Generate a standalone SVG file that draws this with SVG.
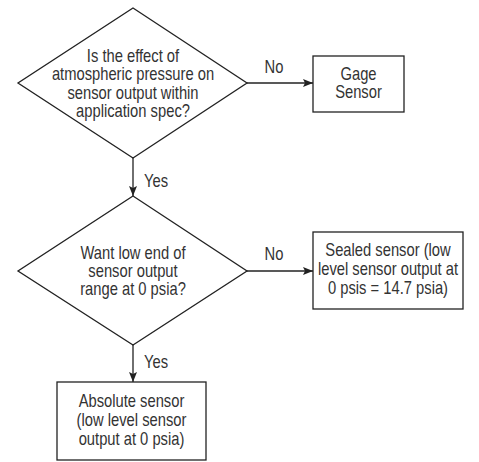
<svg xmlns="http://www.w3.org/2000/svg" width="479" height="462" viewBox="0 0 479 462">
<style>
.s{fill:#fff;stroke:#222;stroke-width:1.3}
.c{fill:none;stroke:#222;stroke-width:1.3}
text{font-family:"Liberation Sans",Arial,sans-serif;font-size:18px;fill:#333;text-anchor:middle}
</style>
<defs>
<marker id="ah" viewBox="0 0 10 8" refX="10" refY="4" markerWidth="10" markerHeight="8" markerUnits="userSpaceOnUse" orient="auto">
<path d="M0,0 L10,4 L0,8 L2,4 Z" fill="#222"/>
</marker>
</defs>
<g id="connectors">
<line class="c" x1="133" y1="158" x2="133" y2="196" marker-end="url(#ah)"/>
<line class="c" x1="247" y1="83" x2="313" y2="83" marker-end="url(#ah)"/>
<line class="c" x1="247" y1="271" x2="313" y2="271" marker-end="url(#ah)"/>
<line class="c" x1="133" y1="345" x2="133" y2="382" marker-end="url(#ah)"/>
<g transform="translate(274,0) scale(0.82,1)"><text x="0" y="73">No</text><text x="0" y="260">No</text></g>
<g transform="translate(156,0) scale(0.82,1)"><text x="0" y="187">Yes</text><text x="0" y="368">Yes</text></g>
</g>
<g id="q1">
<polygon class="s" points="133,8 247,83 133,158 18,83"/>
<g transform="translate(133,0) scale(0.82,1)">
<text x="0" y="62">Is the effect of</text>
<text x="0" y="80.5">atmospheric pressure on</text>
<text x="0" y="99">sensor output within</text>
<text x="0" y="117.5">application spec?</text>
</g>
</g>
<g id="gage">
<rect class="s" x="313" y="56" width="91" height="56"/>
<g transform="translate(358.5,0) scale(0.82,1)">
<text x="0" y="80">Gage</text>
<text x="0" y="98">Sensor</text>
</g>
</g>
<g id="q2">
<polygon class="s" points="133,196 247,271 133,345 18,271"/>
<g transform="translate(133,0) scale(0.82,1)">
<text x="0" y="259">Want low end of</text>
<text x="0" y="277">sensor output</text>
<text x="0" y="295">range at 0 psia?</text>
</g>
</g>
<g id="sealed">
<rect class="s" x="313" y="232" width="150" height="77"/>
<g transform="translate(388,0) scale(0.82,1)">
<text x="0" y="256">Sealed sensor (low</text>
<text x="0" y="275">level sensor output at</text>
<text x="0" y="294">0 psis = 14.7 psia)</text>
</g>
</g>
<g id="absolute">
<rect class="s" x="57" y="382" width="149" height="78"/>
<g transform="translate(131.5,0) scale(0.82,1)">
<text x="0" y="407">Absolute sensor</text>
<text x="0" y="426">(low level sensor</text>
<text x="0" y="445">output at 0 psia)</text>
</g>
</g>
</svg>
